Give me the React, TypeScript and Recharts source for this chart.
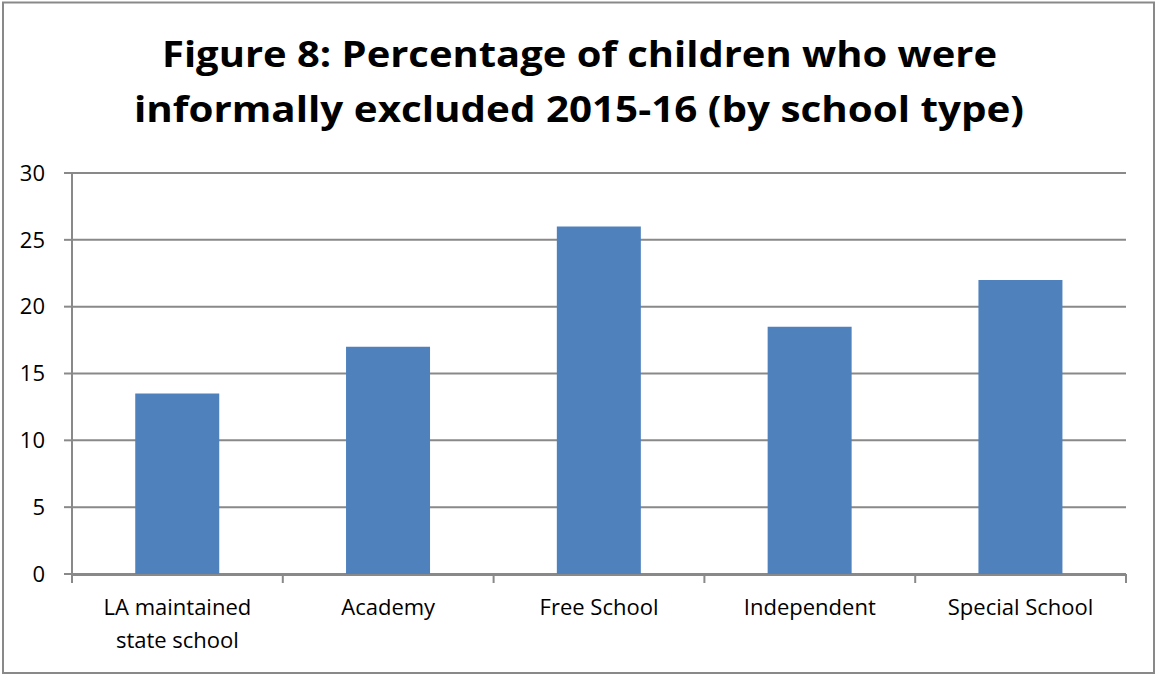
import { BarChart, Bar, XAxis, YAxis, CartesianGrid } from "recharts";

const schoolTypes = [
  "LA maintained state school",
  "Academy",
  "Free School",
  "Independent",
  "Special School",
];
const excludedPct = [13.5, 17, 26, 18.5, 22];
const yTicks = [0, 5, 10, 15, 20, 25, 30];
const edgeTicks = [0, 1, 2, 3, 4, 5];

const titleLines = [
  "Figure 8: Percentage of children who were",
  "informally excluded 2015-16 (by school type)",
];

const data = schoolTypes.map((name, i) => ({ name, value: excludedPct[i] }));

const GRAY = "#898989";
const FONT = "'Open Sans', 'DejaVu Sans', sans-serif";

// wrap long category names like Excel does (roughly 14 chars per line)
function wrap(label: string, max = 14) {
  const lines: string[] = [];
  let cur = "";
  for (const w of label.split(" ")) {
    const next = cur ? cur + " " + w : w;
    if (next.length > max && cur) {
      lines.push(cur);
      cur = w;
    } else cur = next;
  }
  if (cur) lines.push(cur);
  return lines;
}

function CategoryTick(props: any) {
  const { x, y, payload } = props;
  const lines = wrap(String(payload.value));
  return (
    <text x={x} y={y} textAnchor="middle" fontSize={22} fontFamily={FONT} fill="#000">
      {lines.map((l, i) => (
        <tspan key={i} x={x} dy={i === 0 ? 16 : 33}>
          {l}
        </tspan>
      ))}
    </text>
  );
}

const NoLabel = () => <g />;

export default function App() {
  return (
    <div style={{ position: "absolute", left: 0, top: 0, width: 1156, height: 675, background: "#fff" }}>
      <svg width={1156} height={675} style={{ position: "absolute", left: 0, top: 0 }}>
        <rect x={3} y={2.5} width={1151} height={670.5} fill="#fff" stroke={GRAY} strokeWidth={2} />
        <text
          x={579.5}
          y={67}
          textAnchor="middle"
          fontFamily={FONT}
          fontWeight="bold"
          fontSize={36}
          textLength={835}
          lengthAdjust="spacingAndGlyphs"
        >
          {titleLines[0]}
        </text>
        <text
          x={579}
          y={122}
          textAnchor="middle"
          fontFamily={FONT}
          fontWeight="bold"
          fontSize={36}
          textLength={890}
          lengthAdjust="spacingAndGlyphs"
        >
          {titleLines[1]}
        </text>
      </svg>
      <div style={{ position: "absolute", left: 0, top: 0 }}>
        <BarChart
          width={1156}
          height={675}
          data={data}
          margin={{ top: 173, right: 30, bottom: 11, left: 0 }}
          barCategoryGap="30%"
        >
          <CartesianGrid xAxisId="cat" vertical={false} stroke={GRAY} strokeWidth={2} />
          {/* Excel-style tick marks between the categories */}
          <XAxis
            xAxisId="bounds"
            type="number"
            dataKey="value"
            domain={[0, schoolTypes.length]}
            ticks={edgeTicks}
            interval={0}
            tick={<NoLabel />}
            axisLine={false}
            tickLine={{ stroke: GRAY, strokeWidth: 2 }}
            tickSize={9}
            height={1}
            allowDataOverflow
          />
          <XAxis
            xAxisId="cat"
            dataKey="name"
            axisLine={{ stroke: GRAY, strokeWidth: 2 }}
            tickLine={false}
            tickSize={8}
            tickMargin={16}
            tick={<CategoryTick />}
            interval={0}
            height={89}
          />
          <YAxis
            domain={[0, 30]}
            ticks={yTicks}
            width={72}
            axisLine={{ stroke: GRAY, strokeWidth: 2 }}
            tickLine={{ stroke: GRAY, strokeWidth: 2 }}
            tickSize={8}
            tickMargin={19}
            tick={{ fontSize: 22, fontFamily: FONT, fill: "#000" }}
          />
          <Bar xAxisId="cat" dataKey="value" fill="#4F81BD" isAnimationActive={false} />
        </BarChart>
      </div>
    </div>
  );
}
